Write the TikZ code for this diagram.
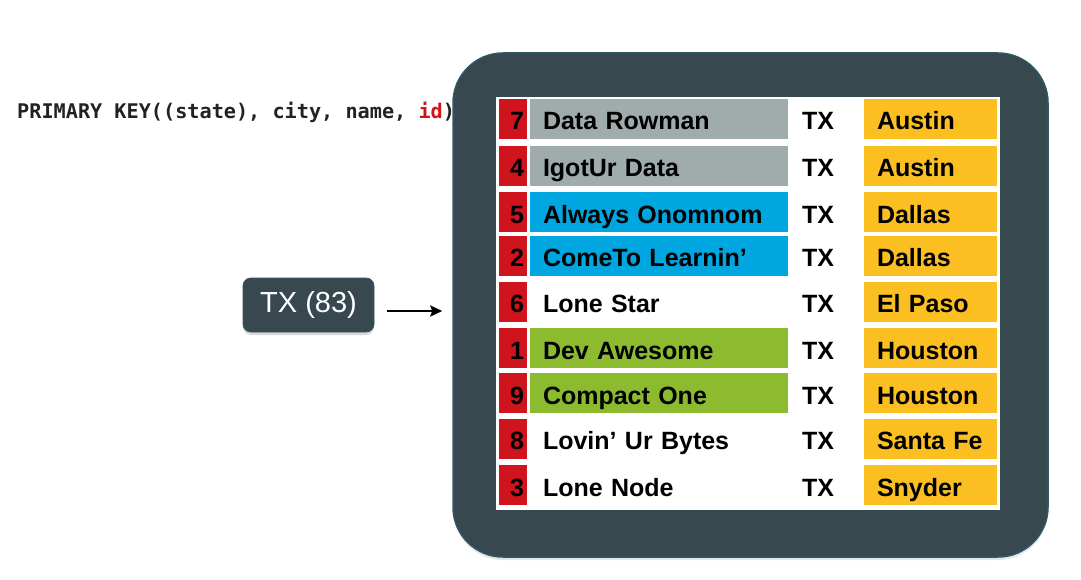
\documentclass[tikz,border=0pt]{standalone}
\usepackage{fontspec}
\setmainfont{Liberation Sans}
\newfontfamily\codefont{DejaVu Sans Mono}
\usetikzlibrary{arrows.meta,shadows}
\definecolor{idred}{HTML}{D0141E}
\definecolor{rowgray}{HTML}{A0ABAB}
\definecolor{rowblue}{HTML}{00A6E0}
\definecolor{rowgreen}{HTML}{8DBB30}
\definecolor{citygold}{HTML}{FBBF22}
\definecolor{partdark}{HTML}{37484F}
\definecolor{partedge}{HTML}{2F5864}
\definecolor{codeink}{HTML}{222222}
\begin{document}
\begin{tikzpicture}[x=1pt,y=-1pt]
    \tikzstyle{cell}=[inner ysep=0pt, minimum height=40pt, text height=24pt, text depth=2pt, font=\bfseries\fontsize{25}{25}\selectfont]
    \tikzstyle{idcell}=[cell, fill=idred, inner xsep=3pt, text width=22pt, align=right]
    \tikzstyle{namecell}=[cell, inner xsep=13pt, text width=232pt, align=left]
    \tikzstyle{statecell}=[cell, inner xsep=0pt]
    \tikzstyle{citycell}=[cell, fill=citygold, inner xsep=13pt, text width=107pt, align=left]
    \useasboundingbox (0,0) rectangle (1081,580);
    % key definition
    \node[anchor=base west, inner sep=0pt, text=codeink, font=\codefont\bfseries\fontsize{20.2}{20.2}\selectfont] (key) at (17,119) {PRIMARY KEY((state), city, name, \textcolor{idred}{id})};
    % partition
    \node[fill=partdark, draw=partedge, line width=1.5pt, rounded corners=50pt, minimum width=595pt, minimum height=504pt, drop shadow={shadow xshift=0pt, shadow yshift=-3pt, opacity=0.2}] (part) at (750.5,305) {};
    \node[fill=white, minimum width=504pt, minimum height=413pt, inner sep=0pt] (tbl) at (748,303.5) {};
    \node[fill=partdark, draw=partedge, line width=0.8pt, rounded corners=8pt, minimum width=131pt, minimum height=54pt, text=white, font=\fontsize{29}{29}\selectfont, drop shadow={shadow xshift=0pt, shadow yshift=-3pt, opacity=0.3}] (tx) at (308.5,305) {TX (83)};
    \draw[line width=2.5pt, -{Stealth[length=12pt, width=11pt, inset=2pt]}, shorten <=13pt, shorten >=10pt] ([yshift=-6pt]tx.east) -- ([yshift=-6pt]tx.east -| part.west);
    % rows
    \node[idcell] (id1) at (513,119) {7};
    \node[namecell, fill=rowgray] (nm1) at (659,119) {Data Rowman};
    \node[statecell] (st1) at (818,119) {TX};
    \node[citycell] (ct1) at (930.5,119) {Austin};
    \node[idcell] (id2) at (513,166) {4};
    \node[namecell, fill=rowgray] (nm2) at (659,166) {IgotUr Data};
    \node[statecell] (st2) at (818,166) {TX};
    \node[citycell] (ct2) at (930.5,166) {Austin};
    \node[idcell] (id3) at (513,212) {5};
    \node[namecell, fill=rowblue] (nm3) at (659,212) {Always Onomnom};
    \node[statecell] (st3) at (818,212) {TX};
    \node[citycell] (ct3) at (930.5,212) {Dallas};
    \node[idcell] (id4) at (513,255.5) {2};
    \node[namecell, fill=rowblue] (nm4) at (659,255.5) {ComeTo Learnin’};
    \node[statecell] (st4) at (818,255.5) {TX};
    \node[citycell] (ct4) at (930.5,255.5) {Dallas};
    \node[idcell] (id5) at (513,301.5) {6};
    \node[namecell] (nm5) at (659,301.5) {Lone Star};
    \node[statecell] (st5) at (818,301.5) {TX};
    \node[citycell] (ct5) at (930.5,301.5) {El Paso};
    \node[idcell] (id6) at (513,348) {1};
    \node[namecell, fill=rowgreen] (nm6) at (659,348) {Dev Awesome};
    \node[statecell] (st6) at (818,348) {TX};
    \node[citycell] (ct6) at (930.5,348) {Houston};
    \node[idcell] (id7) at (513,393) {9};
    \node[namecell, fill=rowgreen] (nm7) at (659,393) {Compact One};
    \node[statecell] (st7) at (818,393) {TX};
    \node[citycell] (ct7) at (930.5,393) {Houston};
    \node[idcell] (id8) at (513,438.5) {8};
    \node[namecell] (nm8) at (659,438.5) {Lovin’ Ur Bytes};
    \node[statecell] (st8) at (818,438.5) {TX};
    \node[citycell] (ct8) at (930.5,438.5) {Santa Fe};
    \node[idcell] (id9) at (513,485) {3};
    \node[namecell] (nm9) at (659,485) {Lone Node};
    \node[statecell] (st9) at (818,485) {TX};
    \node[citycell] (ct9) at (930.5,485) {Snyder};
\end{tikzpicture}
\end{document}
